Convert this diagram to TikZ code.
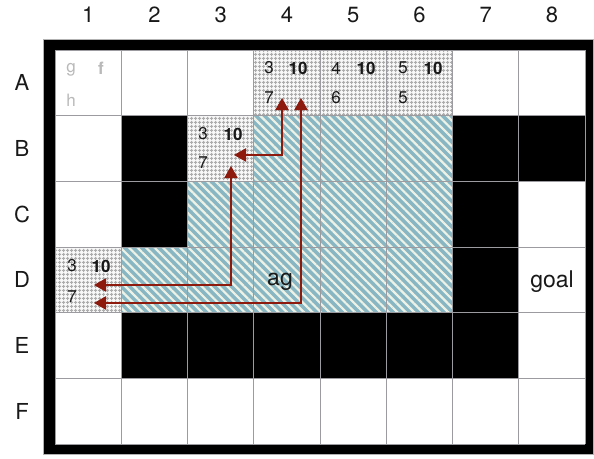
\documentclass[tikz,border=0pt]{standalone}
\usepackage{fontspec}
\setmainfont{TeX Gyre Heros}
\usetikzlibrary{patterns.meta,arrows.meta}
\definecolor{teal0}{RGB}{136,183,195}
\definecolor{stripe}{RGB}{238,242,230}
\definecolor{gridc}{RGB}{155,155,160}
\definecolor{chk}{RGB}{172,172,172}
\definecolor{chkbg}{RGB}{248,248,248}
\definecolor{arr}{RGB}{142,26,14}
\definecolor{lbl}{RGB}{25,25,25}
\definecolor{faint}{RGB}{185,185,185}
\newcommand\gcell[3]{\path[#3] ({55+(#1-1)*66.25},{50+(#2-1)*65.667}) rectangle ++(66.25,65.667);}
\begin{document}
\begin{tikzpicture}[x=1pt,y=-1pt,
  blackcell/.style={fill=black},
  hatchcell/.style={fill=teal0, postaction={pattern={Lines[angle=-45,distance=6pt,line width=2.2pt]}, pattern color=stripe}},
  checkcell/.style={fill=chkbg, postaction={pattern={Hatch[angle=0,distance=4pt,line width=1pt]}, pattern color=chk}},
  axislabel/.style={font=\fontsize{22}{26}\selectfont, text=lbl},
  num/.style={font=\fontsize{17}{20}\selectfont, text=lbl, inner sep=0pt},
  bnum/.style={num, font=\fontsize{17}{20}\selectfont\bfseries},
  ghost/.style={font=\fontsize{17}{20}\selectfont, text=faint, inner sep=0pt},
  bigtext/.style={font=\fontsize{23}{27}\selectfont, text=lbl},
  path arrow/.style={draw=arr, line width=2pt, {Triangle[length=12pt,width=13pt]}-{Triangle[length=12pt,width=13pt]}},
  path shadow/.style={draw=black, opacity=0.18, line width=2.5pt, {Triangle[length=12pt,width=13pt]}-{Triangle[length=12pt,width=13pt]}}]
\useasboundingbox (0,0) rectangle (594,458);
% frame
\fill[black] (43,39) rectangle (593,454);
\draw[gray!60, line width=0.8pt] (43,39) rectangle (593,454);
\fill[white] (55,50) rectangle (585,444);
% black cells
\foreach \c/\r in {2/2,2/3,7/2,8/2,7/3,7/4,2/5,3/5,4/5,5/5,6/5,7/5} {\gcell{\c}{\r}{blackcell}}
% hatched cells
\foreach \c/\r in {4/2,5/2,6/2,3/3,4/3,5/3,6/3,2/4,3/4,4/4,5/4,6/4} {\gcell{\c}{\r}{hatchcell}}
% checkered cells
\foreach \c/\r in {4/1,5/1,6/1,3/2,1/4} {\gcell{\c}{\r}{checkcell}}
% grid lines
\foreach \i in {0,...,8} {\draw[gridc, line width=1pt] ({55+\i*66.25},50) -- ({55+\i*66.25},444);}
\foreach \j in {0,...,6} {\draw[gridc, line width=1pt] (55,{50+\j*65.667}) -- (585,{50+\j*65.667});}
% axis labels
\foreach \i in {1,...,8} {\node[axislabel] (col\i) at ({55+(\i-0.5)*66.25},15) {\i};}
\foreach \l [count=\j] in {A,B,C,D,E,F} {\node[axislabel] (row\l) at (22,{50+(\j-0.5)*65.667}) {\l};}
% A1 legend
\node[ghost] (lg) at (71,70) {g};
\node[ghost, font=\fontsize{17}{20}\selectfont\bfseries] (lf) at (101,68) {f};
\node[ghost] (lh) at (71,100) {h};
% A4
\node[num] (a4g) at (269,68) {3};
\node[bnum] (a4f) at (298,68) {10};
\node[num] (a4h) at (269,98) {7};
% A5
\node[num] (a5g) at (336,68) {4};
\node[bnum] (a5f) at (366,68) {10};
\node[num] (a5h) at (336,98) {6};
% A6
\node[num] (a6g) at (403,68) {5};
\node[bnum] (a6f) at (433,68) {10};
\node[num] (a6h) at (403,98) {5};
% B3
\node[num] (b3g) at (203,134) {3};
\node[bnum] (b3f) at (233,134) {10};
\node[num] (b3h) at (203,163) {7};
% D1
\node[num] (d1g) at (72,266) {3};
\node[bnum] (d1f) at (101,266) {10};
\node[num] (d1h) at (72,297) {7};
% big labels
\node[bigtext] (ag) at (280,282) {ag};
\node[bigtext] (goal) at (552,282) {goal};
% arrow coordinates
\coordinate (p1s) at (301,98);
\coordinate (p1c) at (301,303);
\coordinate (p1e) at (94,303);
\coordinate (p2s) at (282,98);
\coordinate (p2c) at (282,155);
\coordinate (p2e) at (234,155);
\coordinate (p3s) at (231,166);
\coordinate (p3c) at (231,285);
\coordinate (p3e) at (94,285);
% shadows
\begin{scope}[shift={(1.5,2)}]
\draw[path shadow] (p1s) -- (p1c) -- (p1e);
\draw[path shadow] (p2s) -- (p2c) -- (p2e);
\draw[path shadow] (p3s) -- (p3c) -- (p3e);
\end{scope}
% arrows
\draw[path arrow] (p1s) -- (p1c) -- (p1e);
\draw[path arrow] (p2s) -- (p2c) -- (p2e);
\draw[path arrow] (p3s) -- (p3c) -- (p3e);
\end{tikzpicture}
\end{document}
